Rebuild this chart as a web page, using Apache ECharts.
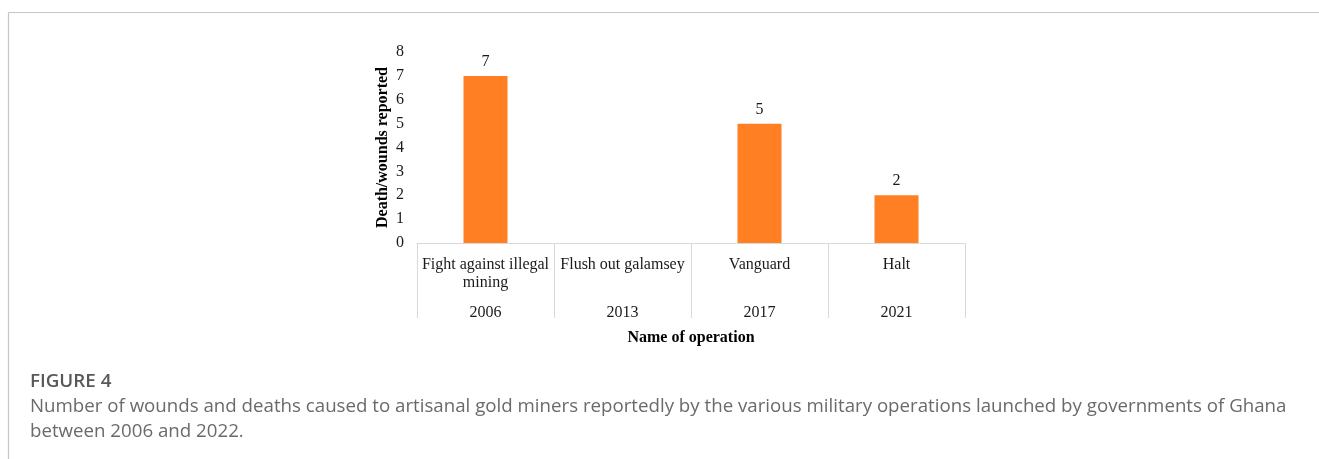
<!DOCTYPE html>
<html>
<head>
<meta charset="utf-8">
<script src="https://cdn.jsdelivr.net/npm/echarts@6/dist/echarts.min.js"></script>
<style>
  html, body { margin: 0; padding: 0; background: #ffffff; }
  #chart { width: 1319px; height: 459px; }
</style>
</head>
<body>
<div id="chart"></div>
<script>
// Military operations against illegal mining and reported casualties
const operations = ['Fight against illegal\nmining', 'Flush out galamsey', 'Vanguard', 'Halt'];
const years = ['2006', '2013', '2017', '2021'];
const casualties = [7, null, 5, 2];
const yTicks = { min: 0, max: 8, interval: 1 };

const figureTitle = 'FIGURE 4';
const captionLines = [
  'Number of wounds and deaths caused to artisanal gold miners reportedly by the various military operations launched by governments of Ghana',
  'between 2006 and 2022.'
];

const serif = '"Liberation Serif", "Times New Roman", serif';
const sans = '"Open Sans", "Noto Sans", sans-serif';
const frameColor = '#c6c6c6';

const chart = echarts.init(document.getElementById('chart'), null, { renderer: 'canvas' });

chart.setOption({
  animation: false,
  backgroundColor: '#ffffff',
  grid: { left: 417, right: 354, top: 52, bottom: 216, containLabel: false },
  xAxis: [
    {
      type: 'category',
      data: operations,
      position: 'bottom',
      boundaryGap: true,
      axisLine: { show: true, lineStyle: { color: '#d9d9d9', width: 1 } },
      axisTick: { show: true, interval: 0, length: 75, lineStyle: { color: '#d9d9d9', width: 1 } },
      axisLabel: {
        interval: 0,
        margin: 13,
        color: '#1a1a1a',
        fontFamily: serif,
        fontSize: 16,
        lineHeight: 18
      }
    },
    {
      type: 'category',
      data: years,
      position: 'bottom',
      boundaryGap: true,
      axisLine: { show: false },
      axisTick: { show: false },
      axisLabel: {
        interval: 0,
        margin: 62,
        color: '#1a1a1a',
        fontFamily: serif,
        fontSize: 16
      },
      name: 'Name of operation',
      nameLocation: 'middle',
      nameGap: 87,
      nameTextStyle: { color: '#000000', fontFamily: serif, fontSize: 16, fontWeight: 'bold' }
    }
  ],
  yAxis: {
    type: 'value',
    min: yTicks.min,
    max: yTicks.max,
    interval: yTicks.interval,
    axisLine: { show: false },
    axisTick: { show: false },
    splitLine: { show: false },
    axisLabel: { margin: 13, color: '#1a1a1a', fontFamily: serif, fontSize: 16 },
    name: 'Death/wounds reported',
    nameLocation: 'middle',
    nameGap: 26,
    nameRotate: 90,
    nameTextStyle: { color: '#000000', fontFamily: serif, fontSize: 16, fontWeight: 'bold' }
  },
  series: [
    {
      type: 'bar',
      xAxisIndex: 0,
      data: casualties,
      barWidth: 44,
      itemStyle: { color: '#ff7f22' },
      label: {
        show: true,
        position: 'top',
        distance: 6,
        color: '#1a1a1a',
        fontFamily: serif,
        fontSize: 16
      }
    }
  ],
  graphic: [
    {
      type: 'line',
      shape: { x1: 8.5, y1: 12.5, x2: 1319, y2: 12.5 },
      style: { stroke: frameColor, lineWidth: 1.2 },
      silent: true
    },
    {
      type: 'line',
      shape: { x1: 8.5, y1: 12.5, x2: 8.5, y2: 459 },
      style: { stroke: frameColor, lineWidth: 1.2 },
      silent: true
    },
    {
      type: 'text',
      left: 30,
      top: 372,
      style: { text: figureTitle, fill: '#585858', font: '600 18.8px ' + sans }
    },
    {
      type: 'text',
      left: 30,
      top: 397,
      style: { text: captionLines[0], fill: '#6a6a6a', font: '18.7px ' + sans }
    },
    {
      type: 'text',
      left: 30,
      top: 422,
      style: { text: captionLines[1], fill: '#6a6a6a', font: '18.7px ' + sans }
    }
  ]
});
</script>
</body>
</html>
